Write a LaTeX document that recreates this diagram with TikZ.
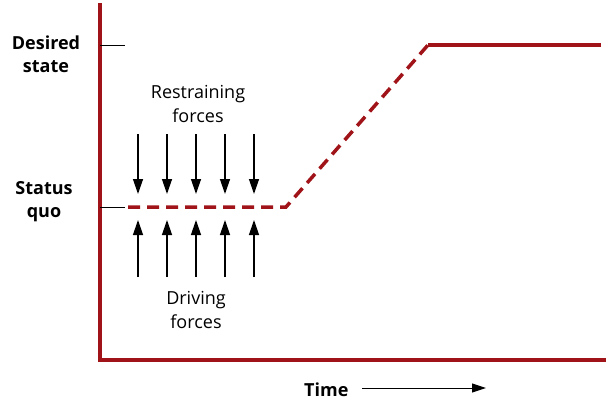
\documentclass[tikz,border=0pt]{standalone}
\usepackage{fontspec}
\setmainfont{Open Sans}
\usetikzlibrary{arrows.meta}
\definecolor{dred}{RGB}{160,20,25}
\begin{document}
\begin{tikzpicture}[x=1pt,y=-1pt,
  axis/.style={dred,line width=4.5pt},
  path/.style={dred,line width=3.5pt},
  force/.style={-{Triangle[length=15pt,width=10pt]},line width=1.3pt},
  lbl/.style={font=\fontsize{18}{23}\selectfont\bfseries,align=center},
  ftxt/.style={font=\fontsize{18}{24}\selectfont,align=center}]
\useasboundingbox (0,0) rectangle (611,405);
\coordinate (top) at (100,3);
\coordinate (orig) at (100,360);
\coordinate (right) at (606,360);
\draw[axis] (top) -- (orig) -- (right);
\draw[line width=0.8pt] (100,45) -- (125,45);
\draw[line width=0.8pt] (100,207) -- (125,207);
\coordinate (s0) at (128,207);
\coordinate (s1) at (286,207);
\coordinate (s2) at (428,45);
\coordinate (s3) at (601,45);
\draw[path,dash pattern=on 12pt off 7pt] (s0) -- (s1) -- (s2);
\draw[path] (s2) -- (s3);
\foreach \x in {138,167,196,225,254}{
  \draw[force] (\x,134) -- (\x,194);
  \draw[force] (\x,277) -- (\x,220);
}
\node[lbl] (ds) at (46,54) {Desired\\state};
\node[lbl] (sq) at (44,202) {Status\\quo};
\node[ftxt] (rf) at (198,104) {Restraining\\forces};
\node[ftxt] (df) at (196,310) {Driving\\forces};
\node[lbl,anchor=east] (tm) at (352,390) {Time};
\coordinate (te) at (486,388);
\draw[-{Triangle[length=14pt,width=9pt]},line width=1pt] (362,388) -- (te);
\end{tikzpicture}
\end{document}
